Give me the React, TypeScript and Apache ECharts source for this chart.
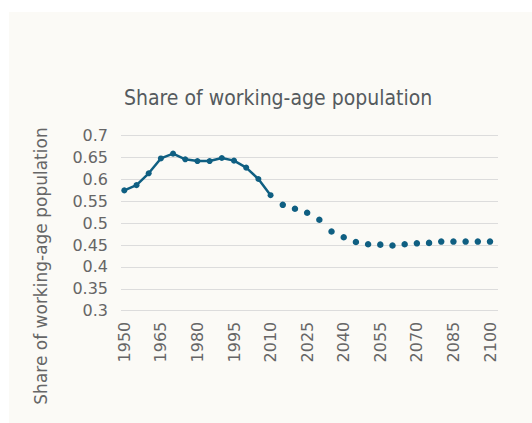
import React, { useEffect, useRef } from "react";
import * as echarts from "echarts";

const years: string[] = [];
for (let y = 1950; y <= 2100; y += 5) years.push(String(y));

const historical: (number | null)[] = [
  0.575, 0.587, 0.614, 0.648, 0.659, 0.646, 0.642, 0.642, 0.649, 0.643, 0.627, 0.601, 0.564,
];
const projected: number[] = [
  0.542, 0.533, 0.524, 0.508, 0.481, 0.468, 0.457, 0.452, 0.451, 0.449, 0.452, 0.454, 0.455,
  0.458, 0.458, 0.458, 0.458, 0.458,
];

const yTicks = [0.3, 0.35, 0.4, 0.45, 0.5, 0.55, 0.6, 0.65, 0.7];

const title = "Share of working-age population";
const yName = "Share of working-age population";

export default function App() {
  const ref = useRef<HTMLDivElement>(null);
  useEffect(() => {
    document.body.style.margin = "0";
    const chart = echarts.init(ref.current!, null, { renderer: "svg" });
    const histData = years.map((_, i) => (i < historical.length ? historical[i] : null));
    const projData = years.map((_, i) =>
      i >= historical.length ? projected[i - historical.length] : null
    );
    const color = "#0f5f82";
    const labelColor = "#666666";
    const labelFont = '"DejaVu Sans", Arial, sans-serif';
    chart.setOption({
      animation: false,
      backgroundColor: "#ffffff",
      graphic: [
        {
          type: "rect",
          shape: { x: 9, y: 12, width: 523, height: 411 },
          style: { fill: "#fbfaf6" },
          z: -10,
        },
        {
          type: "text",
          x: 41,
          y: 266,
          rotation: Math.PI / 2,
          style: {
            text: yName,
            fill: labelColor,
            font: '17px "DejaVu Sans", Arial, sans-serif',
            align: "center",
            verticalAlign: "middle",
          },
        },
      ],
      title: {
        text: title,
        left: 119,
        top: 82,
        textStyle: {
          fontFamily: '"DejaVu Sans Condensed", "Liberation Sans Narrow", sans-serif',
          fontWeight: "normal",
          fontSize: 21,
          color: "#555a5e",
        },
      },
      grid: [
        { left: 121, right: 34, top: 135.7, bottom: 112.3 },
        { left: 124.3, right: 42, top: 135.7, bottom: 112.3 },
      ],
      xAxis: [
        {
          gridIndex: 0,
          type: "value",
          show: false,
          min: 0,
          max: 1,
        },
        {
          gridIndex: 1,
          type: "category",
          data: years,
          boundaryGap: false,
          axisLine: { show: false },
          axisTick: { show: false },
          axisLabel: {
            interval: 2,
            rotate: 90,
            margin: 11,
            color: labelColor,
            fontSize: 16,
            fontFamily: labelFont,
          },
        },
      ],
      yAxis: [
        {
          gridIndex: 0,
          type: "value",
          min: 0.3,
          max: 0.7,
          interval: 0.05,
          axisLine: { show: false },
          axisTick: { show: false },
          splitLine: { lineStyle: { color: "#dcdcdc", width: 1 } },
          axisLabel: {
            margin: 13,
            color: labelColor,
            fontSize: 16,
            fontFamily: labelFont,
            formatter: (v: number) => {
              const t = yTicks.find((x) => Math.abs(x - v) < 1e-6);
              return t !== undefined ? String(t) : "";
            },
          },
        },
        {
          gridIndex: 1,
          type: "value",
          min: 0.3,
          max: 0.7,
          show: false,
          splitLine: { show: false },
        },
      ],
      series: [
        {
          type: "line",
          xAxisIndex: 1,
          yAxisIndex: 1,
          data: histData,
          symbol: "circle",
          symbolSize: 6,
          showAllSymbol: true,
          itemStyle: { color },
          lineStyle: { color, width: 2.5 },
        },
        {
          type: "scatter",
          xAxisIndex: 1,
          yAxisIndex: 1,
          data: projData,
          symbol: "circle",
          symbolSize: 6.5,
          itemStyle: { color, opacity: 1 },
        },
      ],
    });
    return () => chart.dispose();
  }, []);
  return <div ref={ref} style={{ width: 532, height: 423 }} />;
}
